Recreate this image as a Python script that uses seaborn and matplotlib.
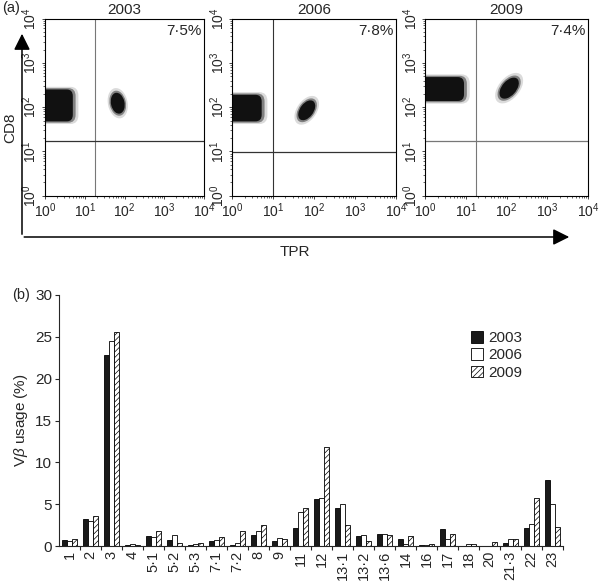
import numpy as np
import pandas as pd
import matplotlib
matplotlib.use('Agg')
import matplotlib.pyplot as plt
import seaborn as sns
from matplotlib.patches import Ellipse, FancyBboxPatch, FancyArrowPatch

# (b) V-beta family usage, %
families = ['1', '2', '3', '4', '5·1', '5·2', '5·3', '7·1', '7·2', '8', '9', '11',
            '12', '13·1', '13·2', '13·6', '14', '16', '17', '18', '20', '21·3', '22', '23']
years = ['2003', '2006', '2009']
usage_2003 = [0.7, 3.3, 22.85, 0.1, 1.2, 0.7, 0.15, 0.65, 0.2, 1.35, 0.65, 2.2,
              5.6, 4.55, 1.2, 1.5, 0.9, 0.15, 2.05, 0, 0, 0.35, 2.2, 7.95]
usage_2006 = [0.6, 3.05, 24.5, 0.3, 1.15, 1.3, 0.3, 0.7, 0.4, 1.8, 1.0, 4.05,
              5.75, 5.1, 1.3, 1.5, 0.3, 0.15, 0.85, 0.3, 0, 0.85, 2.7, 5.0]
usage_2009 = [0.85, 3.6, 25.5, 0.15, 1.8, 0.35, 0.35, 1.1, 1.8, 2.6, 0.85, 4.6,
              11.9, 2.5, 0.6, 1.35, 1.2, 0.3, 1.5, 0.3, 0.5, 0.85, 5.75, 2.3]

# (a) flow panels, all in log10 decades
pct_labels = ['7·5%', '7·8%', '7·4%']
gate_tpr = [1.27, 0.99, 1.25]
gate_cd8 = [1.235, 0.98, 1.24]
main_x_hi = [0.70, 0.72, 0.95]
main_y_lo = [1.68, 1.68, 2.14]
main_y_hi = [2.40, 2.28, 2.68]
minor_x = [1.83, 1.82, 2.06]
minor_y = [2.09, 1.93, 2.43]
minor_w = [0.34, 0.52, 0.58]
minor_h = [0.48, 0.32, 0.34]
minor_angle = [15, 50, 45]

sns.set_style('ticks')
plt.rcParams['font.family'] = ['Liberation Sans', 'DejaVu Sans']
plt.rcParams['mathtext.fontset'] = 'custom'
plt.rcParams['mathtext.rm'] = 'Liberation Sans'
plt.rcParams['mathtext.it'] = 'Liberation Sans:italic'
plt.rcParams['hatch.linewidth'] = 0.5

fig = plt.figure(figsize=(6.0, 5.81), dpi=100)

lefts = [0.075, 0.387, 0.709]
widths = [0.265, 0.273, 0.271]
dec_labels = [r'$10^{%d}$' % k for k in range(5)]
minor_locs = [k + np.log10(m) for k in range(4) for m in range(2, 10)]

for i in range(3):
    ax = fig.add_axes([lefts[i], 0.663, widths[i], 0.305])
    ax.set_xlim(0, 4)
    ax.set_ylim(0, 4)
    for s in ax.spines.values():
        s.set_linewidth(0.8)
        s.set_color('black')
    ax.set_xticks(range(5))
    ax.set_yticks(range(5))
    ax.set_xticklabels(dec_labels, fontsize=10)
    ax.set_yticklabels(dec_labels, fontsize=10, rotation=90, va='center')
    ax.set_xticks(minor_locs, minor=True)
    ax.set_yticks(minor_locs, minor=True)
    ax.tick_params(which='major', length=2.5, width=0.6, pad=1.5)
    ax.tick_params(which='minor', length=1.5, width=0.5)
    ax.set_title(years[i], fontsize=11, pad=3)

    gcol = '#777777' if i != 1 else '#333333'
    ax.axvline(gate_tpr[i], color=gcol, lw=0.8)
    ax.axhline(gate_cd8[i], color='#333333' if i == 0 else gcol, lw=0.9)

    # main CD8+ TPR- population
    h = main_y_hi[i] - main_y_lo[i]
    halo = FancyBboxPatch((-0.3, main_y_lo[i] - 0.06), main_x_hi[i] + 0.44, h + 0.12,
                          boxstyle='round,pad=0,rounding_size=0.2',
                          facecolor='#999999', alpha=0.35, edgecolor='none')
    ax.add_patch(halo)
    halo2 = FancyBboxPatch((-0.3, main_y_lo[i] - 0.03), main_x_hi[i] + 0.37, h + 0.06,
                           boxstyle='round,pad=0,rounding_size=0.18',
                           facecolor='#444444', alpha=0.6, edgecolor='none')
    ax.add_patch(halo2)
    core = FancyBboxPatch((-0.3, main_y_lo[i]), main_x_hi[i] + 0.3, h,
                          boxstyle='round,pad=0,rounding_size=0.15',
                          facecolor='#111111', edgecolor='none')
    ax.add_patch(core)

    # TPR+ population
    for scale, col, al in [(1.45, '#999999', 0.35), (1.2, '#444444', 0.6), (1.0, '#111111', 1.0)]:
        ax.add_patch(Ellipse((minor_x[i], minor_y[i]), minor_w[i] * scale, minor_h[i] * scale,
                             angle=minor_angle[i], facecolor=col, alpha=al, edgecolor='none'))

    ax.text(3.93, 3.72, pct_labels[i], ha='right', va='center', fontsize=11)

# big axis arrows of panel (a)
x0, y0 = 22 / 600, 1 - 237 / 581
fig.add_artist(FancyArrowPatch((x0, y0), (x0, 1 - 31 / 581), transform=fig.transFigure,
                               arrowstyle='-|>,head_length=0.7,head_width=0.35',
                               mutation_scale=14, lw=1.1, color='black'))
fig.add_artist(FancyArrowPatch((x0 - 0.001, y0), (572 / 600, y0), transform=fig.transFigure,
                               arrowstyle='-|>,head_length=0.7,head_width=0.35',
                               mutation_scale=14, lw=1.1, color='black'))
fig.text(10 / 600, 1 - 128 / 581, 'CD8', rotation=90, ha='center', va='center', fontsize=11)
fig.text(295 / 600, 1 - 252 / 581, 'TPR', ha='center', va='center', fontsize=11)
fig.text(2 / 600, 1 - 8 / 581, '(a)', ha='left', va='center', fontsize=10.5)
fig.text(12 / 600, 1 - 295 / 581, '(b)', ha='left', va='center', fontsize=10.5)

# panel (b)
df = pd.DataFrame({
    'family': families * 3,
    'year': [y for y in years for _ in families],
    'usage': usage_2003 + usage_2006 + usage_2009,
})
axb = fig.add_axes([0.0985, 0.0597, 0.84, 0.433])
sns.barplot(data=df, x='family', y='usage', hue='year', order=families, hue_order=years,
            palette={'2003': '#1a1a1a', '2006': 'white', '2009': 'white'},
            edgecolor='black', linewidth=0.6, width=0.72, saturation=1,
            legend=False, ax=axb)
for bar in axb.containers[2]:
    bar.set_hatch('//////')

axb.set_xlim(-0.5, 23.5)
axb.set_ylim(0, 30)
axb.set_yticks(range(0, 31, 5))
axb.set_xlabel('')
axb.set_ylabel(r'V$\beta$ usage (%)', fontsize=11, labelpad=4)
sns.despine(ax=axb)
axb.spines['left'].set_linewidth(0.8)
axb.spines['bottom'].set_linewidth(0.8)
axb.tick_params(axis='y', labelsize=11, length=3, width=0.8, pad=2)
axb.tick_params(axis='x', which='major', length=0, labelsize=10.5, labelrotation=90, pad=3)
axb.set_xticks(np.arange(0.5, 24, 1), minor=True)
axb.tick_params(axis='x', which='minor', length=3, width=0.8)

axb.legend(axb.containers, years, frameon=False, fontsize=11,
           loc='upper left', bbox_to_anchor=(0.79, 0.91),
           handlelength=0.8, handleheight=0.8, handletextpad=0.3, labelspacing=0.2)

fig.savefig('out.png', dpi=100)
